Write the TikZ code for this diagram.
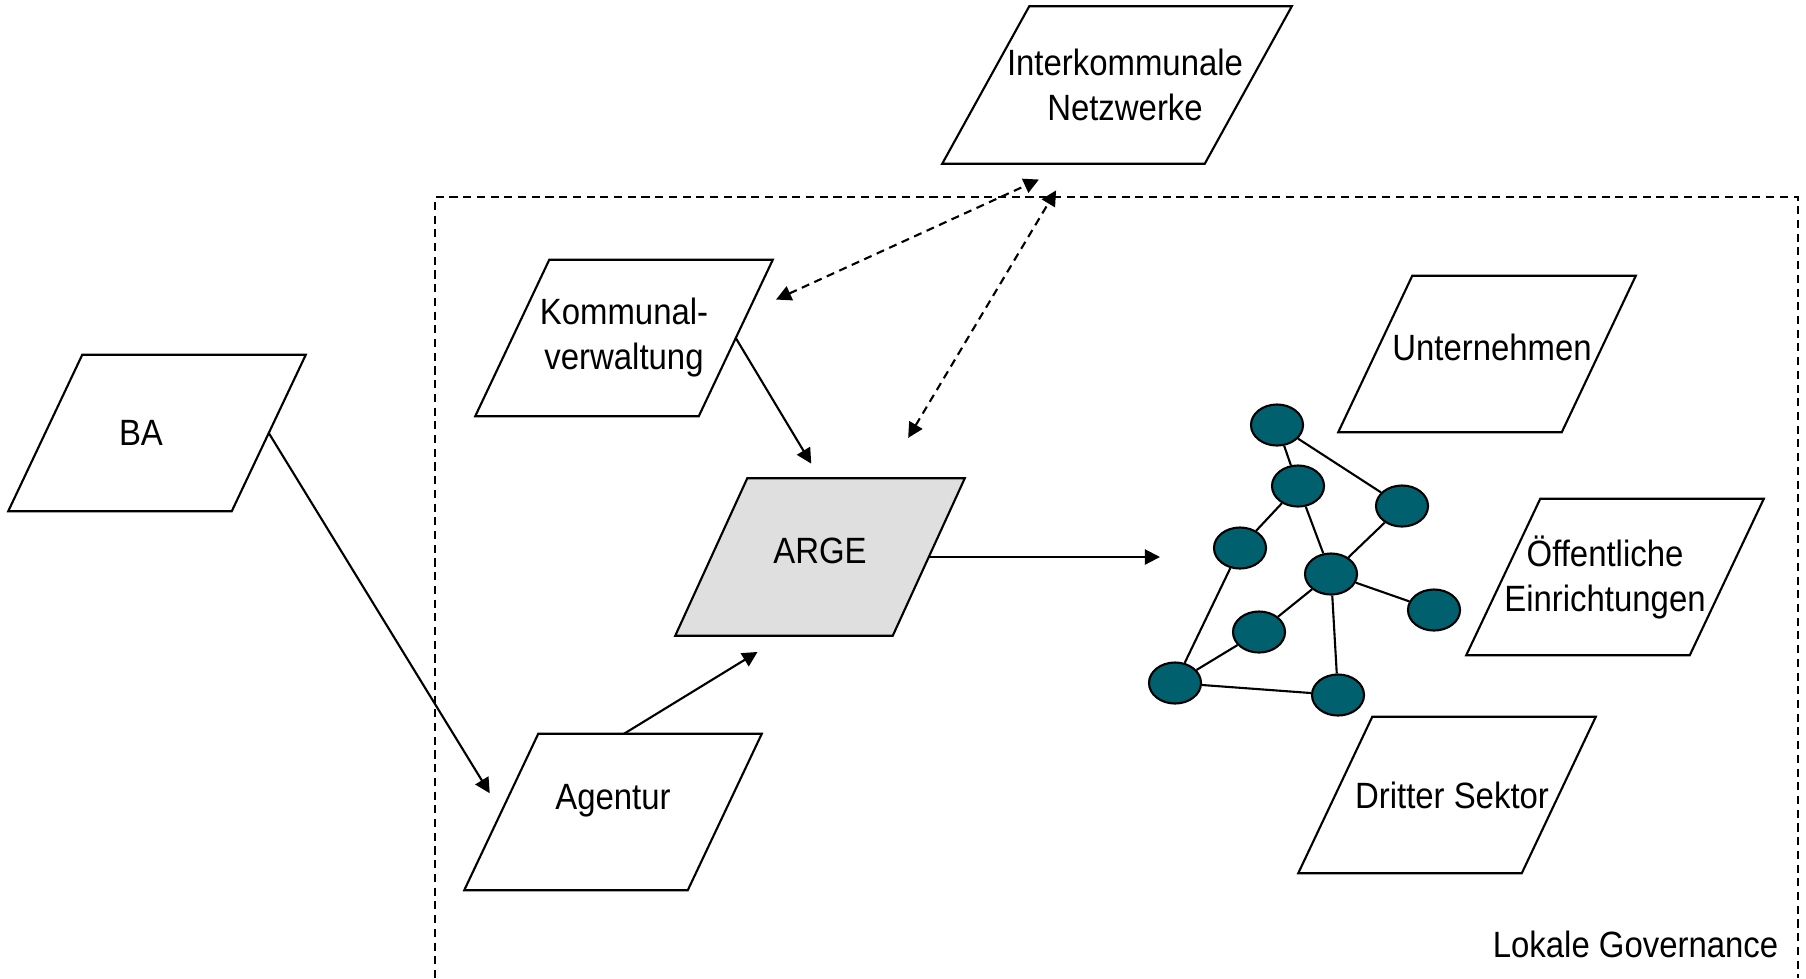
\documentclass[tikz,border=0pt]{standalone}
\usepackage{fontspec}
\setmainfont{Liberation Sans}[FakeStretch=0.9]
\usetikzlibrary{shapes.geometric,arrows.meta,backgrounds}
\definecolor{netzteal}{RGB}{0,96,110}
\definecolor{argegrau}{RGB}{223,223,223}
\begin{document}
\begin{tikzpicture}[x=0.01cm,y=-0.01cm]
\tikzstyle{every node}=[font=\fontsize{10.4pt}{12.8pt}\selectfont]
\tikzstyle{akteur}=[minimum width=2.22cm, minimum height=1.55cm, inner sep=0pt, align=center]
\tikzstyle{knoten}=[draw, line width=0.6pt, ellipse, fill=netzteal, minimum width=0.52cm, minimum height=0.41cm, inner sep=0pt]
\tikzstyle{pfeil}=[-{Triangle[length=4.3pt,width=4.3pt]}, line width=0.6pt]
\tikzstyle{doppelpfeil}=[{Triangle[length=4.3pt,width=4.3pt]}-{Triangle[length=4.3pt,width=4.3pt]}, line width=0.6pt, strich]
\tikzstyle{strich}=[dash pattern=on 2.3pt off 1.6pt]
	\useasboundingbox (0,0) rectangle (1806,978);

	% Lokale Governance
	\draw[strich, line width=0.6pt] (435,978) -- (435,197) -- (1798,197) -- (1798,978);
	\node[anchor=base east, inner sep=0pt] (lokal) at (1779,957) {Lokale Governance};

	\node[akteur] (ba) at (157,433) {BA\hspace*{0.32cm}};
	\node[akteur, minimum width=2.61cm, minimum height=1.56cm] (inter) at (1117,85) {\hspace*{0.16cm}Interkommunale\\\hspace*{0.16cm}Netzwerke};
	\node[akteur] (kommunal) at (624,338) {Kommunal-\\verwaltung};
	\node[akteur, minimum width=2.16cm, minimum height=1.56cm] (arge) at (820,557) {\raisebox{0.12cm}{ARGE}};
	\node[akteur] (agentur) at (613,812) {\raisebox{0.3cm}{Agentur}};
	\node[akteur] (unternehmen) at (1487,354) {\raisebox{0.14cm}{\hspace*{0.1cm}Unternehmen}};
	\node[akteur] (oeffentlich) at (1615,577) {Öffentliche\hspace*{0.2cm}\\Einrichtungen\hspace*{0.2cm}};
	\node[akteur] (dritter) at (1447,795) {\hspace*{0.1cm}Dritter Sektor};

	% Parallelogramme
	\begin{scope}[on background layer]
	\foreach \Name/\Shift/\Farbe in {ba/0.37/white, inter/0.435/white, kommunal/0.37/white, arge/0.36/argegrau, agentur/0.37/white, unternehmen/0.37/white, oeffentlich/0.37/white, dritter/0.37/white}{
		\draw[line width=0.6pt, fill=\Farbe] ([xshift=-\Shift cm]\Name.south west) -- ([xshift=-\Shift cm]\Name.south east) -- ([xshift=\Shift cm]\Name.north east) -- ([xshift=\Shift cm]\Name.north west) -- cycle;
	}
	\end{scope}

	% Netzwerk
	\foreach \Name/\XCoord/\YCoord in {n1/1277/425, n2/1298/486, n3/1402/506, n4/1240/548, n5/1331/574, n6/1434/610, n7/1259/632, n8/1175/683, n9/1338/695}{
		\node[knoten] (\Name) at (\XCoord,\YCoord) {};
	}
	\foreach \Von/\Nach in {n1/n2, n1/n3, n2/n4, n2/n5, n3/n5, n5/n6, n5/n7, n5/n9, n4/n8, n7/n8, n8/n9}{
		\draw[line width=0.6pt] (\Von) -- (\Nach);
	}

	\draw[pfeil, shorten >=0.22cm] (ba.east) -- (agentur.west);
	\draw[pfeil, shorten >=0.31cm] ([xshift=0.11cm]agentur.north) -- ([xshift=-0.36cm]arge.south);
	\draw[pfeil, shorten >=0.17cm] (kommunal.east) -- (arge.north);
	\coordinate (netz) at (1160,557);
	\draw[pfeil] (arge.east) -- (netz);
	\draw[doppelpfeil, shorten <=0.30cm, shorten >=0.38cm] ([shift={(13,-26)}]kommunal.east) -- ([xshift=-0.435cm]inter.south);
	\draw[doppelpfeil, shorten <=0.47cm, shorten >=0.31cm] ([xshift=0.64cm]arge.north) -- ([xshift=-0.45cm]inter.south);
\end{tikzpicture}
\end{document}
